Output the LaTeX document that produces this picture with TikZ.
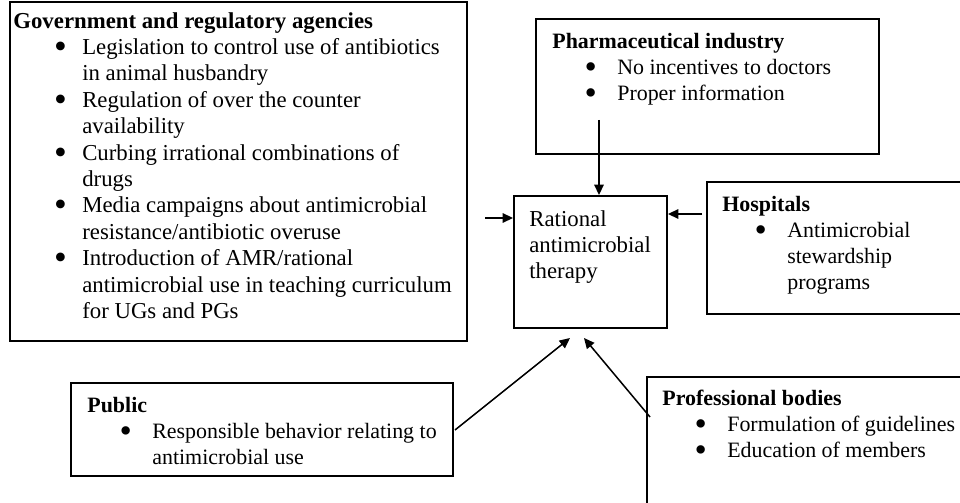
\documentclass[tikz,border=0pt]{standalone}
\usepackage{fontspec}
\setmainfont{Liberation Serif}
\usetikzlibrary{arrows.meta, positioning, fit}

% bullet lines: bullet, then text indent
\newcommand{\bigbullet}{\raisebox{-0.17em}{\scalebox{1.6}{\textbullet}}}
\newcommand{\bul}{\hspace*{17pt}\makebox[17.2pt][l]{\bigbullet}}
\newcommand{\cnt}{\hspace*{34.2pt}}
\newcommand{\gbul}{\hspace*{21.5pt}\makebox[14.8pt][l]{\bigbullet}}
\newcommand{\gcnt}{\hspace*{36.3pt}}

\begin{document}
\begin{tikzpicture}[x=0.5267pt, y=-0.5267pt,
  box/.style={draw, line width=1pt, inner sep=0pt},
  txt/.style={anchor=north west, inner sep=0pt, align=left, font=\fontsize{11.55}{13.7}\selectfont},
  bigtxt/.style={txt, font=\fontsize{12}{13.9}\selectfont},
  arr/.style={-{Triangle[length=5.5pt, width=5pt]}, line width=0.8pt}]

  \clip (0,0) rectangle (960,503);

  % Boxes
  \node[box, fit={(10,2) (467,341)}] (gov) {};
  \node[box, fit={(536,19) (879,154)}] (pharma) {};
  \node[box, fit={(514,196) (667,328)}] (rat) {};
  \node[box, fit={(707,182) (990,314)}] (hosp) {};
  \node[box, fit={(71,383) (453,476)}] (public) {};
  \node[box, fit={(647,377) (990,530)}] (prof) {};

  % Texts
  \node[bigtxt] (govtxt) at (13,12) {\textbf{Government and regulatory agencies}\\%
    \gbul Legislation to control use of antibiotics\\%
    \gcnt in animal husbandry\\%
    \gbul Regulation of over the counter\\%
    \gcnt availability\\%
    \gbul Curbing irrational combinations of\\%
    \gcnt drugs\\%
    \gbul Media campaigns about antimicrobial\\%
    \gcnt resistance/antibiotic overuse\\%
    \gbul Introduction of AMR/rational\\%
    \gcnt antimicrobial use in teaching curriculum\\%
    \gcnt for UGs and PGs};

  \node[txt] (pharmatxt) at (552,33) {\textbf{Pharmaceutical industry}\\%
    \bul No incentives to doctors\\%
    \bul Proper information};

  \node[bigtxt] (rattxt) at (529,210) {Rational\\antimicrobial\\therapy};

  \node[txt] (hosptxt) at (722,196) {\textbf{Hospitals}\\%
    \bul Antimicrobial\\%
    \cnt stewardship\\%
    \cnt programs};

  \node[txt] (pubtxt) at (87,397) {\textbf{Public}\\%
    \bul Responsible behavior relating to\\%
    \cnt antimicrobial use};

  \node[txt] (proftxt) at (662,390) {\textbf{Professional bodies}\\%
    \bul Formulation of guidelines\\%
    \bul Education of members};

  % Arrow ends
  \coordinate (govout) at (485,218);
  \coordinate (pharmaout) at (599,120);
  \coordinate (hospout) at (702,214);
  \coordinate (pubout) at (455,430);
  \coordinate (pubin) at (570,338);
  \coordinate (profout) at (650,417);
  \coordinate (profin) at (584,338);

  % Arrows
  \draw[arr] (govout) -- (govout -| rat.west);
  \draw[arr] (pharmaout) -- (pharmaout |- rat.north);
  \draw[arr] (hospout) -- (hospout -| rat.east);
  \draw[arr] (pubout) -- (pubin);
  \draw[arr] (profout) -- (profin);

\end{tikzpicture}
\end{document}
